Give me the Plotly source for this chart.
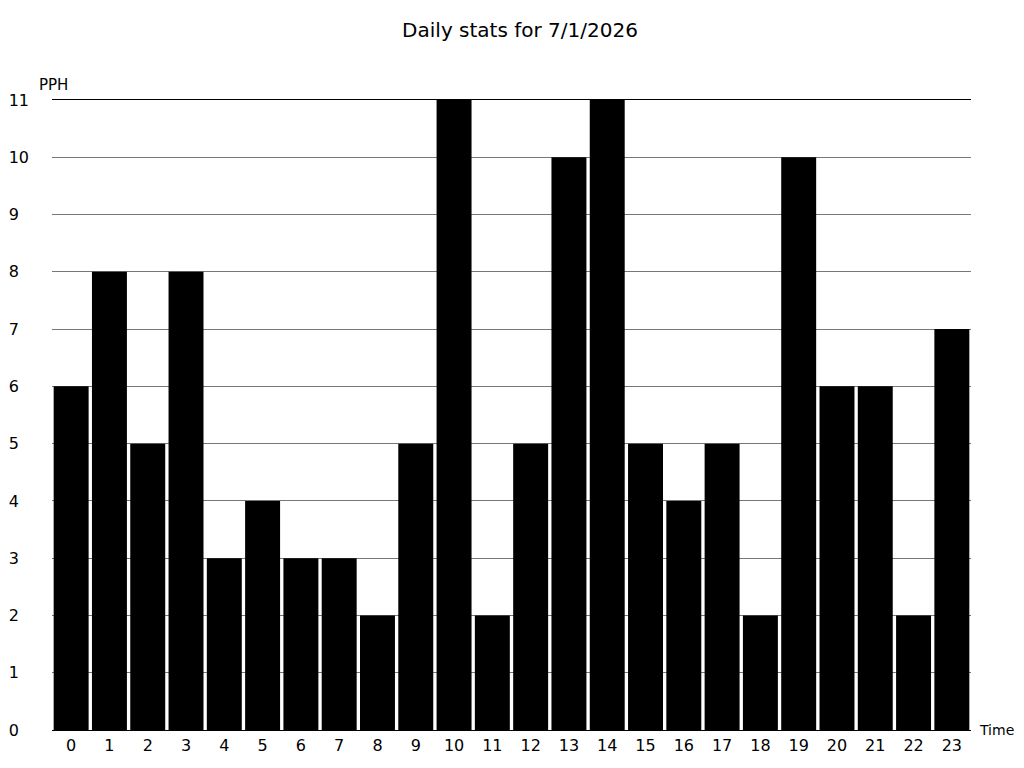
import plotly.graph_objects as go

# hourly values for the day
hours = list(range(24))
pph = [6, 8, 5, 8, 3, 4, 3, 3, 2, 5, 11, 2, 5, 10, 11, 5, 4, 5, 2, 10, 6, 6, 2, 7]
title_text = "Daily stats for 7/1/2026"
y_ticks = list(range(12))
# pad single digits so labels line up on the left like the original
y_labels = [str(v) if v >= 10 else str(v) + "\u2007" for v in y_ticks]

# the page body adds an 8px offset, margins compensate for it
fig = go.Figure(go.Bar(
    x=[str(h) for h in hours],
    y=pph,
    marker=dict(color="black", line=dict(width=0)),
))

fig.update_layout(
    width=1024,
    height=768,
    margin=dict(l=44, r=61, t=92, b=46),
    paper_bgcolor="white",
    plot_bgcolor="white",
    bargap=0.087,
    showlegend=False,
    font=dict(family="DejaVu Sans", size=16, color="black"),
    title=dict(text=title_text, x=0.5, xanchor="center", y=1 - 22 / 768,
               yanchor="middle", yref="container",
               font=dict(size=20, color="black")),
)

fig.update_xaxes(
    type="category",
    automargin=False,
    showgrid=False,
    showline=True,
    mirror=True,
    linecolor="black",
    linewidth=1,
    ticks="",
    ticklabelstandoff=1,
    tickfont=dict(size=16),
)

fig.update_yaxes(
    range=[0, 11],
    automargin=False,
    tickvals=y_ticks,
    ticktext=y_labels,
    showgrid=True,
    gridcolor="#777777",
    gridwidth=1,
    zeroline=False,
    showline=False,
    ticks="",
    ticklabelstandoff=22,
    tickfont=dict(size=16),
)

fig.add_annotation(text="PPH", xref="paper", yref="paper", x=0, y=1,
                   xanchor="left", yanchor="middle", xshift=-15, yshift=15,
                   showarrow=False, font=dict(size=15))
fig.add_annotation(text="Time", xref="paper", yref="paper", x=1, y=0,
                   xanchor="left", yanchor="middle", xshift=6,
                   showarrow=False, font=dict(size=14))

fig.write_html("out.html")
